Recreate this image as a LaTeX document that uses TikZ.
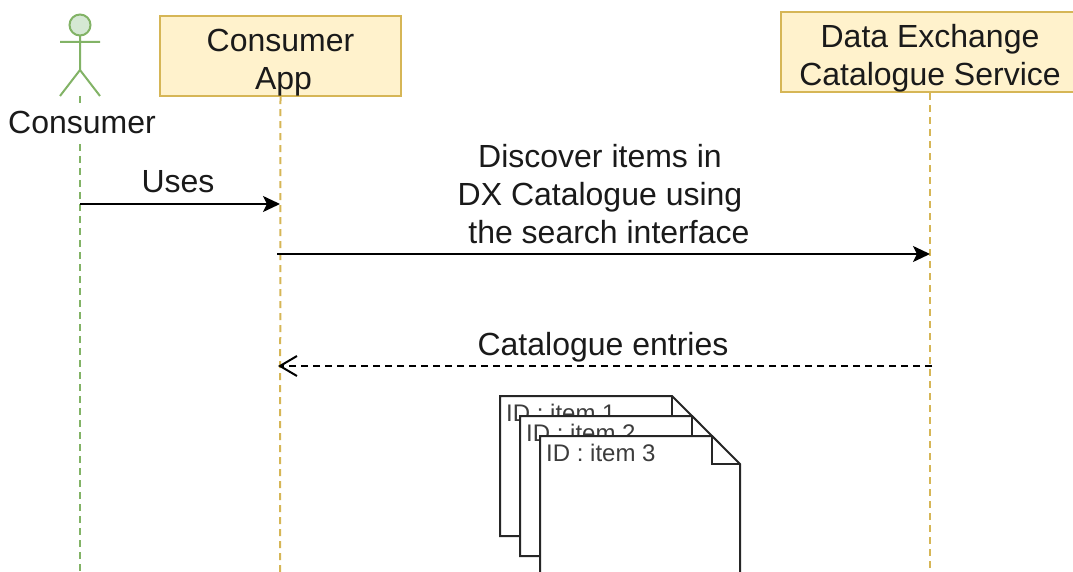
\documentclass[tikz,border=0pt]{standalone}
\usepackage{fontspec}
\setmainfont{Liberation Sans}
\usetikzlibrary{arrows.meta}
\definecolor{boxfill}{HTML}{FFF2CC}
\definecolor{boxline}{HTML}{D6B656}
\definecolor{actorfill}{HTML}{D5E8D4}
\definecolor{actorline}{HTML}{82B366}
\definecolor{inktext}{HTML}{1A1A1A}
\tikzset{
  lifebox/.style={draw=boxline, fill=boxfill, line width=2pt, inner sep=0pt, text=inktext, align=center, font=\fontsize{32}{37.5}\selectfont},
  label/.style={inner sep=0pt, text=inktext, align=center, font=\fontsize{32}{38}\selectfont},
  idlabel/.style={inner sep=0pt, anchor=west, text=inktext!85, font=\fontsize{24}{28}\selectfont},
  lifeline/.style={line width=2pt, dash pattern=on 7pt off 5pt},
  call/.style={line width=2pt, -{Stealth[length=17pt,width=16pt,inset=4pt]}},
  answer/.style={line width=2pt, dash pattern=on 7pt off 5pt, -{Straight Barb[length=17pt,width=20pt]}},
  page/.style={draw=black!85, fill=white, line width=2pt, line join=miter}
}
\begin{document}
\begin{tikzpicture}[x=1pt, y=-1pt]
\clip (0, 0) rectangle (1073, 572);

% lifelines first, boxes on top
\coordinate (actorfoot) at (80, 96);
\coordinate (actorend) at (80, 572);
\coordinate (append) at (280, 572);
\coordinate (dxend) at (930, 572);
\draw [lifeline, actorline] (actorfoot) -- (actorend);
\node [lifebox, minimum width=241pt, minimum height=80pt] (app) at (280.5, 56) {\rule{0pt}{36pt}Consumer\\\hspace{6pt}App};
\node [lifebox, minimum width=298pt, minimum height=80pt] (dx) at (930, 52) {\rule{0pt}{36pt}Data Exchange\\Catalogue Service};
\draw [lifeline, boxline] (app.south) -- (append);
\draw [lifeline, boxline] (dx.south) -- (dxend);

% actor
\draw [actorline, line width=2pt] (80, 35) -- (80, 70) (60, 42) -- (100, 42) (60, 96) -- (80, 70) -- (100, 96);
\draw [actorline, fill=actorfill, line width=2pt] (80, 25) circle (10.5);
\node [label, fill=white, minimum width=150pt, minimum height=36pt] (consumer) at (82, 122) {Consumer};

% messages
\coordinate (usesfrom) at (80, 204);
\coordinate (usesto) at (280, 204);
\coordinate (discoverfrom) at (277, 254);
\coordinate (discoverto) at (930, 254);
\coordinate (entriesfrom) at (932, 366);
\coordinate (entriesto) at (278, 366);
\draw [call] (usesfrom) -- (usesto);
\draw [call] (discoverfrom) -- (discoverto);
\draw [answer] (entriesfrom) -- (entriesto);
\node [label] (uses) at (178, 182) {Uses};
\node [label] (discover) at (600, 194) {Discover items in\\DX Catalogue using\\\ \ the search interface};
\node [label] (entries) at (603, 347) {Catalogue entries};

% pages
\foreach \n/\x/\y in {1/500/396, 2/520/416, 3/540/436} {
  \draw [page] (\x, \y) -- ++(172, 0) -- ++(28, 28) -- ++(0, 112) -- ++(-200, 0) -- cycle;
  \draw [page, fill=none] (\x+172, \y) -- ++(0, 28) -- ++(28, 0);
  \node [idlabel] (item\n) at (\x+6, \y+17) {ID : item \n};
}
\end{tikzpicture}
\end{document}
